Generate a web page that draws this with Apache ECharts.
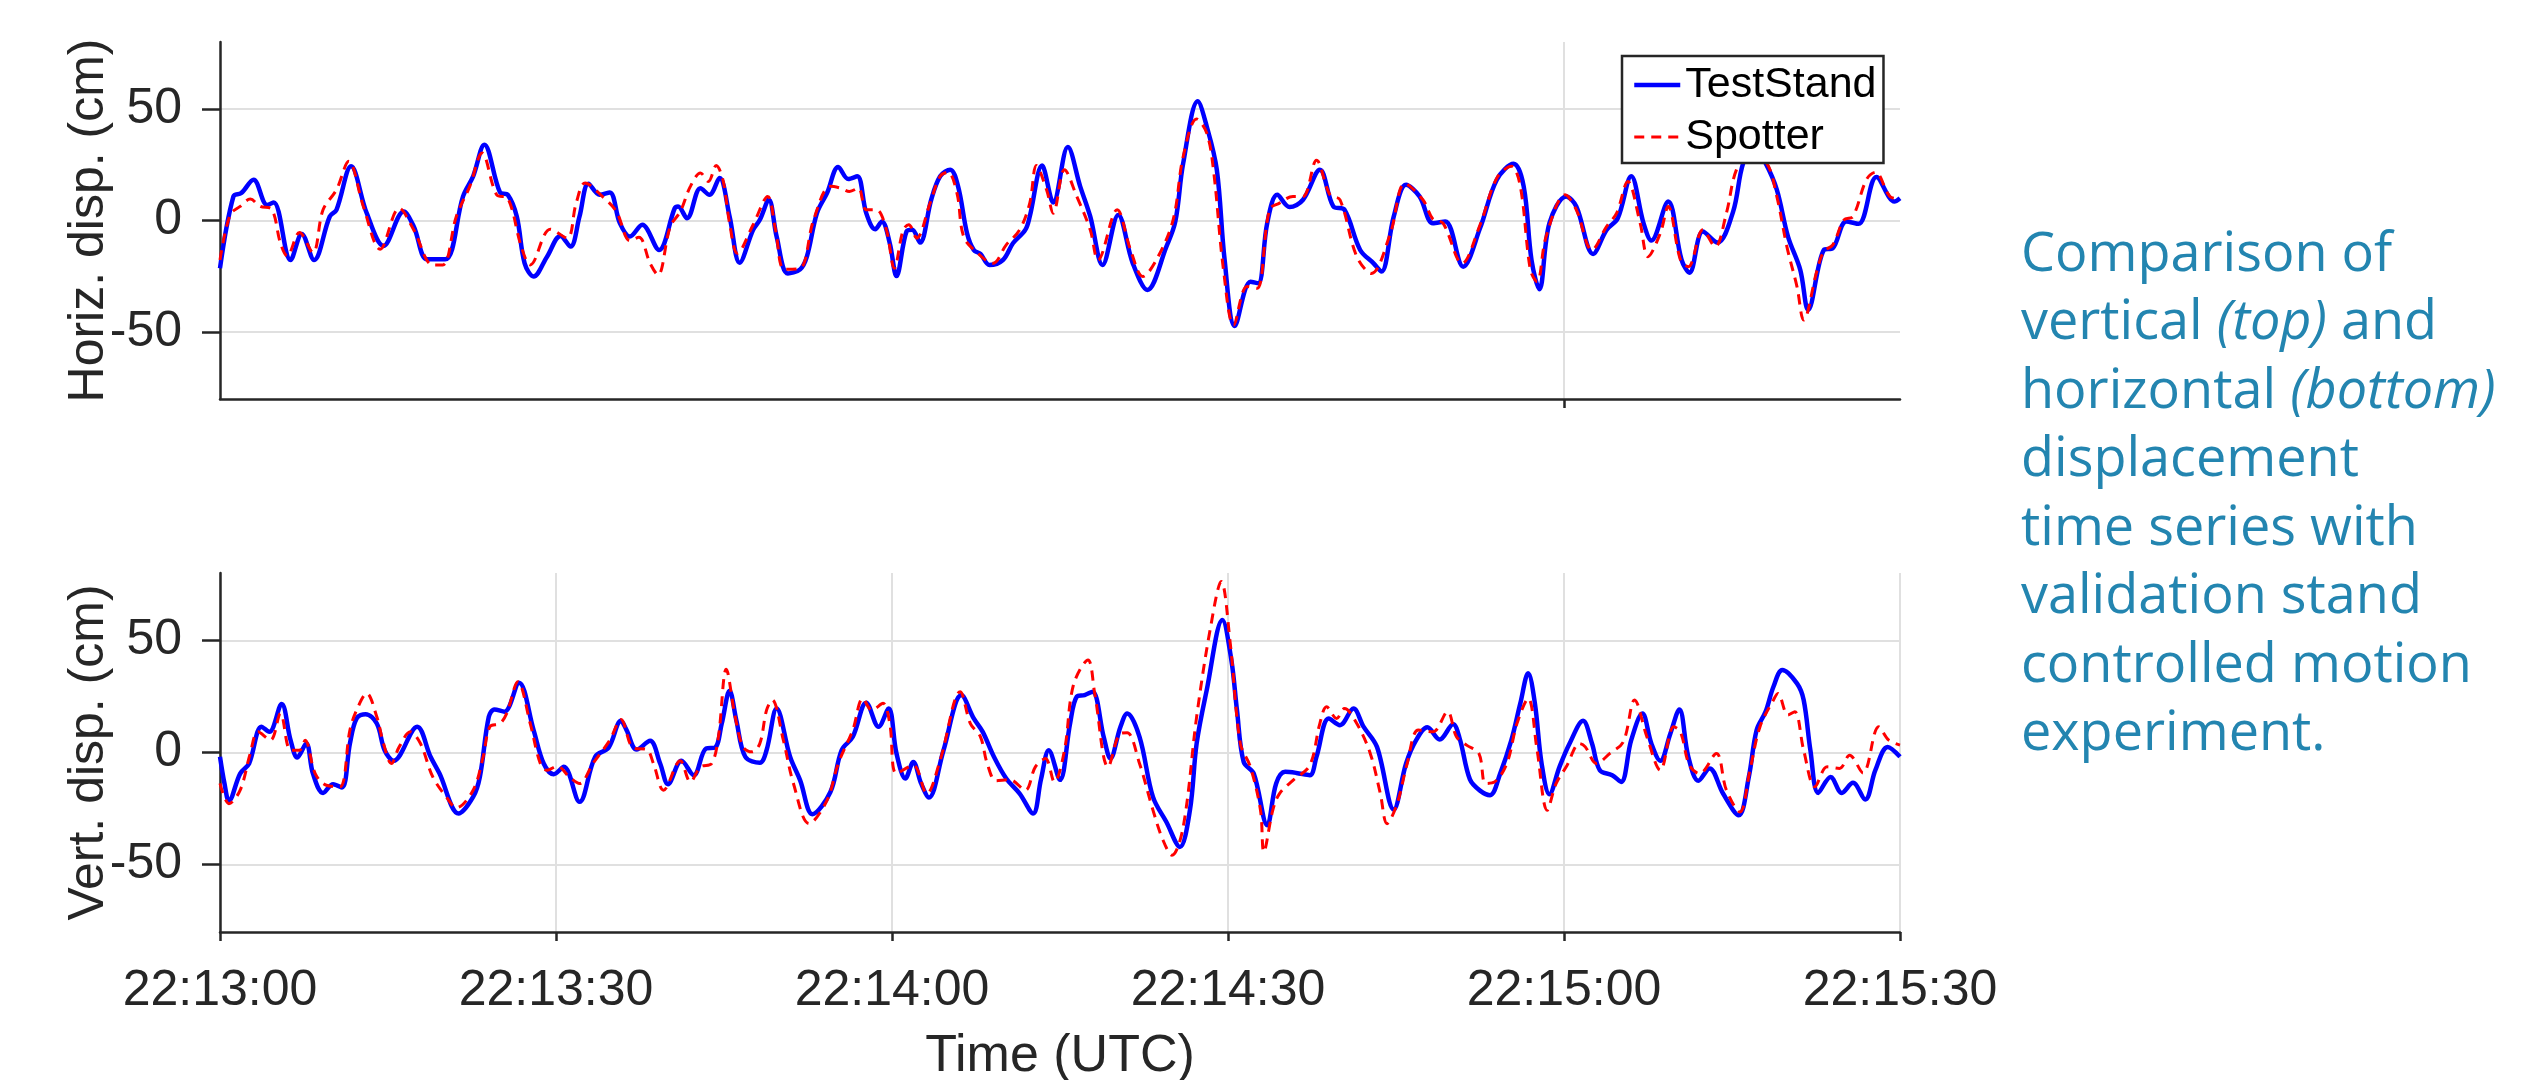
<!DOCTYPE html>
<html>
<head>
<meta charset="utf-8">
<title>TestStand vs Spotter displacement</title>
<script src="https://cdn.jsdelivr.net/npm/echarts@6/dist/echarts.min.js"></script>
<style>
  html, body { margin: 0; padding: 0; background: #fff; }
  #chart { width: 2543px; height: 1080px; }
</style>
</head>
<body>
<div id="chart"></div>
<script>
// [seconds after 22:13:00 UTC, displacement in cm]
const horizStand = [
  [0, -21.4], [1.2, 10.8], [1.9, 12.3], [3.0, 18.3], [4.2, 7], [4.8, 8.1], [6.3, -17.7], [7.3, -6], [8.4, -17.7], [9.8, 1.8],
  [10.4, 4.8], [11.7, 24.3], [13.1, 3.3], [14.6, -11.4], [16.4, 4], [17.3, -2.7], [18.5, -17.4], [20.1, -17.4], [21.7, 10.8], [22.6, 19.8],
  [23.6, 34], [25.0, 12.6], [25.7, 11.5], [26.5, 1.8], [27.2, -19.2], [28.0, -25.1], [29.2, -16.2], [30.4, -6.9], [31.3, -11.7], [32.1, 1.8],
  [32.9, 16.5], [33.9, 11.5], [34.8, 12.6], [35.7, -1.2], [36.6, -7.2], [37.7, -1.9], [39.2, -13.2], [40.6, 5.5], [40.9, 6.3], [41.7, 1],
  [42.9, 14.5], [43.7, 11.5], [44.6, 19], [45.5, 1.8], [46.4, -18.9], [47.6, -4.2], [48.2, 0.3], [49.0, 9.3], [49.7, -7.2], [50.7, -23.7],
  [51.8, -21.9], [52.4, -16.2], [53.3, 3.3], [54.2, 12.3], [55.2, 24], [56.1, 18.6], [56.9, 19.8], [57.7, 3.3], [58.5, -3.9], [59.1, -0.4],
  [59.8, -10.2], [60.4, -24.9], [61.3, -4.9], [61.8, -4.2], [62.5, -9.9], [63.5, 9.3], [64.3, 19.8], [65.2, 22.8], [65.9, 15.3], [66.7, -5.7],
  [67.3, -13.2], [67.9, -15], [68.7, -19.9], [69.9, -17.7], [70.8, -10.2], [71.9, -4.2], [72.3, 1.8], [73.4, 24.6], [74.4, 8.1], [75.7, 32.9],
  [76.8, 15.3], [77.7, 1.8], [78.8, -19.9], [80.2, 2.5], [81.5, -19.2], [82.8, -31.1], [84.5, -11.7], [85.3, -0.4], [86.0, 25.7], [87.3, 53.4],
  [88.1, 42.2], [89.0, 22.8], [89.7, -17.7], [90.6, -47.3], [92.0, -27.4], [92.7, -28.1], [93.5, -1.2], [94.4, 11.5], [95.5, 6], [96.7, 9.3],
  [98.2, 22.8], [99.4, 6.3], [100.4, 4.8], [101.8, -13.2], [103.0, -19.2], [103.7, -22.9], [104.8, 1.8], [105.9, 16], [107.1, 10.8], [108.3, -1.2],
  [109.4, -0.4], [111.0, -20.7], [112.5, -3.5], [114.0, 18.3], [115.5, 25.4], [116.4, 15.3], [117.1, -17.7], [117.8, -30.8], [118.7, -1.2], [120.2, 10.8],
  [121.1, 6.3], [122.6, -15], [123.8, -4.2], [124.8, 1], [126.0, 19.8], [127.1, -1.2], [127.8, -9], [129.3, 8.5], [130.5, -17.7], [131.2, -23.4],
  [132.4, -4.9], [133.7, -9.9], [135.1, 4], [136.0, 25.7], [137.0, 33], [138.0, 25.7], [139.0, 13.8], [140.0, -7.2], [141.1, -22.2], [141.8, -40.1],
  [143.2, -13.2], [144.0, -12.4], [145.2, -0.4], [146.3, -1.5], [147.9, 19.5], [149.5, 8.5], [150, 10]
];

const horizSpotter = [
  [0, -17.7], [0.9, 2.5], [1.8, 6.3], [2.7, 9.6], [3.6, 6.3], [4.6, 5.1], [5.4, -10.2], [6.0, -15.9], [7.1, -5.4], [8.3, -14.4],
  [9.2, 4.8], [10.4, 13.8], [11.5, 26.5], [12.8, 6.3], [14.3, -12.9], [16.0, 5.5], [17.3, -4.2], [19.0, -19.9], [19.9, -19.9], [21.1, 1.8],
  [22.3, 15.3], [23.4, 30.2], [24.7, 11.5], [25.7, 10], [26.9, -11.7], [27.7, -19.9], [29.5, -3.9], [31.0, -7.9], [31.8, 7.8], [32.6, 16.8],
  [34.2, 10.5], [35.4, 4], [36.6, -9], [37.4, -7.5], [38.4, -19.2], [39.1, -24.4], [40.2, -2.7], [41.1, 4], [42.0, 15.3], [42.9, 21.3],
  [43.6, 17.5], [44.3, 24.6], [44.9, 18.3], [45.5, -1.2], [46.2, -14.7], [47.6, -1.9], [48.9, 10.8], [49.6, -4.2], [50.4, -21.9], [51.8, -21.4],
  [53.0, 0.3], [54.5, 15.3], [55.4, 14.5], [56.2, 13], [57.0, 14.5], [57.7, 4.8], [58.6, 4.8], [59.5, -4.2], [60.2, -21.4], [61.0, -4.2],
  [61.5, -1.9], [62.2, -7.9], [63.4, 7.8], [64.3, 19.8], [65.0, 21.6], [65.8, 12.3], [66.4, -7.2], [67.6, -14.4], [69.0, -19.2], [70.2, -10.9],
  [71.4, -4.2], [72.3, 7.8], [72.9, 24.6], [73.8, 13.8], [74.4, 3.3], [75.4, 22.8], [76.5, 10.8], [77.7, -4.2], [78.4, -17.7], [80.1, 4.8],
  [81.3, -13.2], [82.4, -25.1], [83.6, -17.7], [85.1, 0.3], [86.0, 28.7], [87.2, 45.5], [88.1, 39.2], [88.7, 22.8], [89.6, -22.2], [90.5, -46.9],
  [91.7, -29.6], [92.6, -30.4], [93.7, 4.8], [94.6, 7.8], [95.8, 10.8], [96.7, 10.8], [97.9, 27], [99.1, 11.5], [100.0, 9.3], [101.5, -16.2],
  [102.8, -23.7], [104.5, -5.7], [105.8, 16.5], [107.4, 9.3], [108.3, 0.6], [109.2, -1.2], [110.9, -19.2], [112.5, -2], [114.0, 19], [115.3, 24.3],
  [116.1, 15.3], [117.0, -22.2], [117.6, -27.4], [118.4, -7.2], [120.1, 11.5], [121.1, 4.8], [122.5, -13.2], [123.8, -2.7], [124.7, 3.3], [125.7, 17.5],
  [126.8, -1.2], [127.5, -16.2], [128.6, -5.7], [129.3, 6.3], [130.4, -17.7], [131.1, -20.7], [132.4, -4.2], [133.5, -11.7], [134.5, 3.3], [135.4, 22.8],
  [136.6, 30], [138.1, 25.7], [139.0, 10.8], [139.9, -11.7], [140.8, -29.6], [141.4, -44.6], [142.6, -22.2], [143.2, -13.9], [144.0, -10.9], [145.0, 0.3],
  [145.8, 1.8], [147.0, 18.3], [147.8, 21.6], [149.1, 10.8], [150, 9.6]
];

const vertStand = [
  [0, -1.9], [0.4, -13.8], [0.8, -21.6], [1.8, -9.4], [2.6, -4.9], [3.7, 11.5], [4.4, 9.2], [5.5, 21.6], [6.3, 5.5], [6.9, -2.2],
  [7.7, 4], [8.3, -9.4], [9.2, -18], [10.1, -14.1], [10.9, -15.6], [11.6, 4], [12.2, 15.2], [13.0, 17.1], [14.0, 12.9], [14.7, 1],
  [15.5, -3.7], [17.6, 11.5], [18.8, -1.9], [19.6, -9.4], [21.3, -27.2], [22.6, -19.8], [23.2, -10.9], [24.0, 15.9], [24.5, 19.2], [25.4, 18.2],
  [26.7, 31.1], [28.0, 10], [28.9, -4.9], [29.8, -9.7], [30.7, -6.4], [32.1, -22], [33.5, -1.9], [34.7, 2.2], [35.8, 14.1], [36.3, 10],
  [37.2, 1.3], [38.4, 5.2], [39.3, -4.9], [40.0, -14.1], [41.2, -3.7], [42.3, -10.1], [43.4, 1.8], [44.2, 2.2], [44.8, 12.9], [45.5, 27.5],
  [46.1, 14.4], [46.9, -1.9], [48.2, -4.6], [48.8, 1], [49.7, 19.6], [50.9, -1.9], [51.8, -12.4], [52.9, -27.5], [54.5, -17.6], [55.5, 1],
  [56.5, 7], [57.7, 22.2], [58.8, 11.5], [59.7, 19.6], [60.4, -0.4], [61.2, -11.6], [61.9, -4.2], [62.6, -13.8], [63.3, -20.1], [64.6, 1],
  [66.2, 25.6], [67.3, 15.2], [68.1, 9.2], [69.1, -1.9], [70.2, -11.6], [71.4, -18.3], [72.6, -27.2], [73.3, -12], [74.0, 1], [75.0, -12.2],
  [75.9, 12.9], [76.5, 24.9], [77.2, 25.6], [77.9, 27.1], [78.9, 7], [79.5, -2.7], [80.4, 11.5], [81.0, 17.4], [82.1, 7], [83.3, -19.8],
  [84.5, -31], [85.7, -42.1], [86.6, -25.7], [87.2, 4], [88.1, 27.8], [89.5, 59.1], [90.3, 41.2], [90.8, 18.9], [91.4, -4.2], [92.3, -9.4],
  [93.5, -32.4], [94.3, -13.8], [95.1, -8.6], [96.1, -9.1], [97.3, -10.1], [97.9, -1.9], [99.0, 15.2], [100.0, 12.2], [101.2, 19.6], [102.1, 11.5],
  [103.3, 2.5], [104.8, -25.4], [105.9, -4.9], [106.8, 5.5], [107.8, 11.2], [108.9, 5.8], [110.1, 12.6], [110.7, 6], [111.6, -12], [112.5, -17],
  [113.4, -19], [114.3, -9.4], [115.3, 5.5], [116.1, 21.9], [116.8, 35.3], [117.4, 21.9], [118.0, -4.9], [118.7, -18.6], [119.6, -6.4], [120.5, 4],
  [121.7, 14.1], [122.5, 4], [123.2, -7.9], [124.3, -10.1], [125.1, -13.1], [126.0, 5.5], [127.0, 17.4], [127.8, 4], [128.6, -3.7], [129.5, 8.5],
  [130.3, 19.2], [131.1, -1.9], [132.0, -12.6], [133.0, -7.1], [134.2, -18.3], [135.6, -28], [136.5, -10.9], [137.2, 10], [138.0, 18.2], [138.7, 29.3],
  [139.5, 36.8], [140.8, 30.8], [141.4, 23.4], [142.0, 1], [142.7, -18], [143.8, -10.9], [144.8, -18], [145.8, -13.5], [146.9, -21], [147.8, -7.9],
  [148.9, 2.5], [150, -1.9]
];

const vertSpotter = [
  [0, -13.8], [0.8, -22.8], [1.8, -16.8], [2.7, -0.4], [3.4, 9.2], [4.5, 5.5], [5.4, 17.4], [6.3, 1], [7.1, 1], [7.6, 5.5],
  [8.5, -9.4], [9.5, -14.6], [10.7, -15.3], [11.6, 10], [12.2, 18.9], [13.1, 26.3], [14.0, 15.9], [14.6, 4], [15.3, -4.9], [16.0, 2.5],
  [17.0, 9.2], [17.9, 4], [19.0, -10.9], [20.2, -19.8], [21.1, -24.6], [22.6, -16.8], [23.5, -1.9], [24.1, 11.5], [25.0, 12.9], [25.6, 17.4],
  [26.6, 31.5], [27.7, 12.9], [28.6, -4.9], [29.2, -7.9], [30.1, -6.1], [31.2, -10.9], [32.1, -13.8], [33.3, -4.9], [34.8, 5.5], [35.8, 14.7],
  [36.9, 2], [38.1, 1.3], [38.7, -4.9], [39.6, -16.8], [41.1, -3.7], [42.0, -13.1], [42.9, -6.4], [43.9, -4.9], [44.5, 7], [45.2, 37.1],
  [46.0, 15.9], [46.7, 2.5], [47.5, 0.3], [48.2, 4], [48.8, 18.9], [49.3, 23.4], [50.3, 5.5], [51.2, -13.8], [52.6, -31.7], [54.2, -21.3],
  [55.2, -4.9], [56.5, 10], [57.4, 24.1], [58.2, 18.9], [59.2, 21.9], [59.8, 12.9], [60.4, -9.4], [61.9, -5.7], [63.1, -18.3], [64.3, -3.4],
  [66.1, 27.1], [67.0, 12.9], [67.9, 7], [68.5, -4.9], [69.3, -12.6], [70.5, -12.1], [71.9, -16.8], [72.8, -6.4], [73.7, -2.7], [74.5, -13.1],
  [75.4, 1], [76.2, 30.1], [77.5, 41.2], [78.1, 26.3], [79.3, -6.4], [80.4, 8.5], [81.0, 8.8], [82.1, -4.9], [83.3, -25.7], [84.2, -39.1],
  [85.0, -45.8], [86.0, -33.2], [87.2, 15.9], [88.4, 54.6], [89.4, 76.2], [90.2, 48.7], [91.1, 4], [92.0, -6.4], [92.9, -25.7], [93.2, -44.3],
  [94.0, -25.7], [94.6, -18.3], [95.8, -12.4], [97.3, -5.7], [98.2, 12.9], [98.8, 20.4], [99.7, 15.2], [100.4, 19.6], [101.5, 12.9], [102.7, -0.4],
  [103.6, -18.3], [104.2, -31.7], [105.1, -22.8], [106.0, -4.9], [107.0, 10], [108.3, 9.2], [109.6, 18.2], [110.4, 7], [111.3, 3.3], [112.4, -0.4],
  [113.0, -13.8], [113.8, -13.1], [114.9, -4.9], [115.8, 12.9], [116.8, 24.1], [117.6, 1], [118.5, -25.7], [119.3, -13.8], [120.2, -6.4], [121.4, 4],
  [121.9, 2.5], [122.9, -4.9], [124.1, -0.4], [125.3, 4.8], [126.3, 23.4], [127.4, 7], [128.6, -7.9], [129.8, 11.5], [130.4, 9.2], [131.2, -5.7],
  [132.1, -9.4], [133.6, -0.4], [134.5, -16.8], [135.7, -26.5], [136.6, -7.9], [137.5, 11.5], [138.7, 23.4], [139.1, 26.3], [140.0, 16.7], [140.6, 18.2],
  [141.4, 1], [142.4, -15.3], [143.5, -6.4], [144.6, -7.1], [145.5, -1.2], [146.7, -9.1], [148.1, 11.5], [149.0, 5.5], [150, 3.3]
];

const timeTicks = ['22:13:00', '22:13:30', '22:14:00', '22:14:30', '22:15:00', '22:15:30'];
const dispTicks = [-50, 0, 50];
const captionLines = [
  'Comparison of',
  'vertical {i|(top)} and',
  'horizontal {i|(bottom)}',
  'displacement',
  'time series with',
  'validation stand',
  'controlled motion',
  'experiment.'
];

const ink = '#262626';
const font = '"Liberation Sans", Arial, Helvetica, sans-serif';
const gridColor = '#e0e0e0';
const captionFont = '"Open Sans", sans-serif';

function dispAxis(gridIndex, name) {
  return {
    type: 'value',
    gridIndex: gridIndex,
    min: -80,
    max: 80,
    name: name,
    nameLocation: 'middle',
    nameRotate: 90,
    nameGap: 106,
    nameMoveOverlap: false,
    nameTextStyle: { fontSize: 50, color: ink, fontFamily: font },
    axisLine: { show: true, lineStyle: { color: ink, width: 2.5 } },
    axisTick: { show: true, length: 18, customValues: dispTicks, lineStyle: { color: ink, width: 2.5 } },
    axisLabel: { customValues: dispTicks, fontSize: 50, color: ink, margin: 38, fontFamily: font },
    splitLine: { show: true, lineStyle: { color: gridColor, width: 2 } }
  };
}

const chart = echarts.init(document.getElementById('chart'));

chart.setOption({
  animation: false,
  backgroundColor: '#ffffff',
  grid: [
    { left: 220, top: 42, width: 1680, height: 357, outerBoundsMode: 'none' },
    { left: 220, top: 573, width: 1680, height: 359, outerBoundsMode: 'none' }
  ],
  xAxis: [
    {
      type: 'value',
      gridIndex: 0,
      min: 0,
      max: 150,
      axisLine: { onZero: false, lineStyle: { color: ink, width: 2.5 } },
      axisTick: { show: true, length: 9, customValues: [120], lineStyle: { color: ink, width: 2.5 } },
      axisLabel: { show: false },
      splitLine: { show: true, lineStyle: { color: gridColor, width: 2 } }
    },
    {
      type: 'value',
      gridIndex: 1,
      min: 0,
      max: 150,
      interval: 30,
      name: 'Time (UTC)',
      nameLocation: 'middle',
      nameGap: 99,
      nameTextStyle: { fontSize: 52, color: ink, fontFamily: font },
      axisLine: { onZero: false, lineStyle: { color: ink, width: 2.5 } },
      axisTick: { show: true, length: 9, lineStyle: { color: ink, width: 2.5 } },
      axisLabel: {
        fontSize: 50,
        color: ink,
        margin: 34,
        fontFamily: font,
        formatter: function (v) { return timeTicks[Math.round(v / 30)]; }
      },
      splitLine: { show: true, lineStyle: { color: gridColor, width: 2 } }
    }
  ],
  yAxis: [
    dispAxis(0, 'Horiz. disp. (cm)'),
    dispAxis(1, 'Vert. disp. (cm)')
  ],
  legend: {
    data: [
      { name: 'TestStand', lineStyle: { color: '#0000ff', width: 4.5, type: 'solid' } },
      { name: 'Spotter', lineStyle: { color: '#ff0000', width: 3, type: [10, 7] } }
    ],
    orient: 'vertical',
    left: 1622,
    top: 56,
    padding: [4, 7, 1, 10],
    itemGap: 2,
    itemWidth: 46,
    itemHeight: 14,
    selectedMode: false,
    backgroundColor: '#ffffff',
    borderColor: ink,
    borderWidth: 2.5,
    itemStyle: { opacity: 0 },
    textStyle: { fontSize: 43, color: '#000', lineHeight: 50, fontFamily: font },
    z: 10
  },
  series: [
    {
      name: 'TestStand', type: 'line', xAxisIndex: 0, yAxisIndex: 0,
      data: horizStand, symbol: 'none', smooth: 0.35,
      lineStyle: { color: '#0000ff', width: 4.5 }, itemStyle: { color: '#0000ff' }
    },
    {
      name: 'Spotter', type: 'line', xAxisIndex: 0, yAxisIndex: 0,
      data: horizSpotter, symbol: 'none', smooth: 0.35,
      lineStyle: { color: '#ff0000', width: 3, type: [10, 7] }, itemStyle: { color: '#ff0000' }
    },
    {
      name: 'TestStand', type: 'line', xAxisIndex: 1, yAxisIndex: 1,
      data: vertStand, symbol: 'none', smooth: 0.35,
      lineStyle: { color: '#0000ff', width: 4.5 }, itemStyle: { color: '#0000ff' }
    },
    {
      name: 'Spotter', type: 'line', xAxisIndex: 1, yAxisIndex: 1,
      data: vertSpotter, symbol: 'none', smooth: 0.35,
      lineStyle: { color: '#ff0000', width: 3, type: [10, 7] }, itemStyle: { color: '#ff0000' }
    }
  ],
  graphic: [
    {
      type: 'text',
      left: 2021,
      top: 221,
      style: {
        text: captionLines.join('\n'),
        fill: '#2385b0',
        fontSize: 54,
        fontFamily: captionFont,
        lineHeight: 68.5,
        rich: {
          i: { fontStyle: 'italic', fontSize: 54, fontFamily: captionFont, fill: '#2385b0', lineHeight: 68.5 }
        }
      }
    }
  ]
});
</script>
</body>
</html>
